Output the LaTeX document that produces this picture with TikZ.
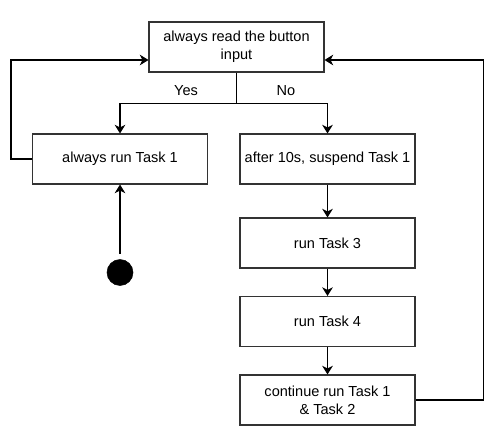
\documentclass[tikz,border=0pt]{standalone}
\usepackage{tikz}
\usepackage{xcolor}
\usepackage{fontspec}
\setmainfont{Liberation Sans}
\usetikzlibrary{arrows.meta}

\tikzset{
  flowbox/.style={draw=black!80, line width=0.8pt, minimum width=131.25pt, minimum height=37.5pt, align=center, inner sep=1pt, font=\fontsize{10.9}{13.2}\selectfont},
  flowline/.style={line width=0.8pt, -{Stealth[length=6.5pt,width=8pt,inset=2pt]}},
  flowlabel/.style={font=\fontsize{10.9}{13.2}\selectfont, inner sep=0.75pt}
}

\begin{document}
\begin{tikzpicture}[x=0.75pt,y=0.75pt,yscale=-1,xscale=1]
\useasboundingbox (0,0) rectangle (491,438);

%Shape: Rectangle [id:read]
\node[flowbox] (read) at (236.5,47) {always read the button\\input};
%Shape: Rectangle [id:task1]
\node[flowbox] (task1) at (120,159) {always run Task 1};
%Shape: Rectangle [id:suspend]
\node[flowbox] (suspend) at (327.5,159) {after 10s, suspend Task 1};
%Shape: Rectangle [id:task3]
\node[flowbox] (task3) at (327.5,243) {run Task 3};
%Shape: Rectangle [id:task4]
\node[flowbox] (task4) at (327.5,321.5) {run Task 4};
%Shape: Rectangle [id:cont]
\node[flowbox] (cont) at (327.5,400) {continue run Task 1\\\& Task 2};
%Shape: Circle [id:start]
\node[circle, fill=black, draw=black, minimum size=19.5pt, inner sep=0pt] (start) at (120,272.5) {};

%Straight Lines [id:split]
\coordinate (split) at (236.5,103.5);
\draw[line width=0.8pt] (read.south) -- (split);
\draw[flowline] (split) -| (task1.north);
\draw[flowline] (split) -| (suspend.north);
%Straight Lines [id:chain]
\draw[flowline] (suspend.south) -- (task3.north);
\draw[flowline] (task3.south) -- (task4.north);
\draw[flowline] (task4.south) -- (cont.north);
%Straight Lines [id:startline]
\draw[flowline, shorten <=4pt] (start.north) -- (task1.south);
%Straight Lines [id:loops]
\draw[flowline] (task1.west) -- ++(-21,0) |- ([yshift=9.75pt]read.west);
\draw[flowline] (cont.east) -- ++(68,0) |- ([yshift=9.75pt]read.east);

% Text Node
\node[flowlabel] (yes) at (186,91) {Yes};
% Text Node
\node[flowlabel] (no) at (286,91) {No};

\end{tikzpicture}
\end{document}
